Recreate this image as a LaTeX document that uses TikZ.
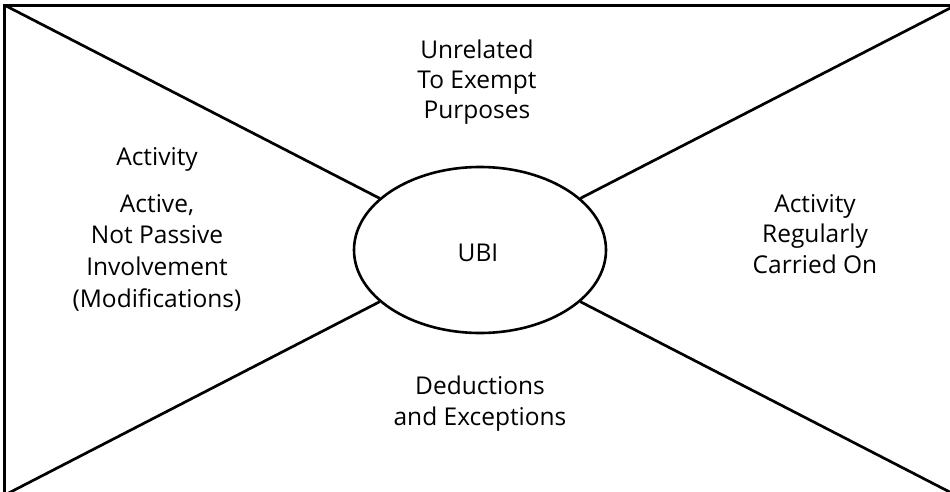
\documentclass[tikz,border=0pt]{standalone}
\usepackage{fontspec}
\setmainfont{Open Sans}
\usetikzlibrary{shapes.geometric}
\begin{document}
\begin{tikzpicture}[x=1pt,y=-1pt,
  lbl/.style={anchor=base, inner sep=0pt, font=\fontsize{24.5}{31}\selectfont},
  edge/.style={line width=2.7pt},
]
\useasboundingbox (0,0) rectangle (950,492);
\fill[white] (0,0) rectangle (950,492);
\begin{scope}
\clip (0,0) rectangle (950,492);
\coordinate (tl) at (4.8,5.3);
\coordinate (tr) at (955.5,5.3);
\coordinate (br) at (955.5,495);
\coordinate (bl) at (4.8,495);
\draw[edge, line join=miter] (tl) -- (tr) -- (br) -- (bl) -- cycle;
\node[ellipse, draw, line width=2.6pt, minimum width=252pt, minimum height=166pt, inner sep=0pt] (U) at (480,250) {};
\draw[edge] (tl) -- (U);
\draw[edge] (tr) -- (U);
\draw[edge] (bl) -- (U);
\draw[edge] (br) -- (U);
\end{scope}
\node[lbl] (ubi) at (478,261) {UBI};
% top
\node[lbl] (t1) at (477,59) {Unrelated};
\node[lbl] (t2) at (477,89) {To Exempt};
\node[lbl] (t3) at (477,119) {Purposes};
% left
\node[lbl] (l0) at (157,165) {Activity};
\node[lbl] (l1) at (157,212) {Active,};
\node[lbl] (l2) at (157,243) {Not Passive};
\node[lbl] (l3) at (157,275) {Involvement};
\node[lbl] (l4) at (157,307) {(Modifications)};
% right
\node[lbl] (r1) at (815,212) {Activity};
\node[lbl] (r2) at (815,242) {Regularly};
\node[lbl] (r3) at (815,273) {Carried On};
% bottom
\node[lbl] (b1) at (480,394) {Deductions};
\node[lbl] (b2) at (480,425) {and Exceptions};
\end{tikzpicture}
\end{document}
